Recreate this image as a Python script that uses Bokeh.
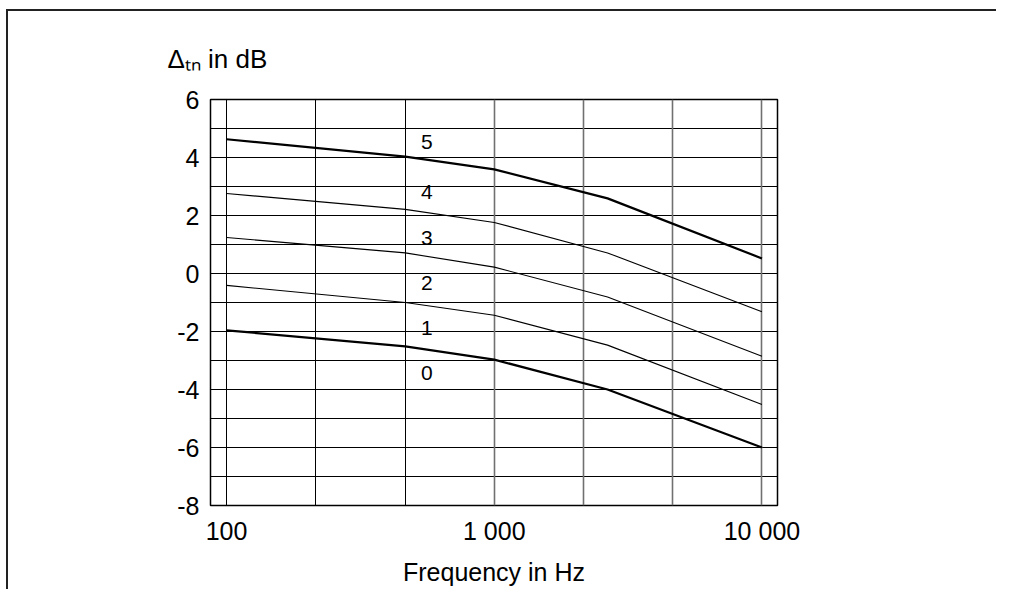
from bokeh.plotting import figure
from bokeh.models import FixedTicker, Grid, ColumnDataSource, Range1d, Title
from bokeh.core.properties import value
from bokeh.embed import file_html
from bokeh.resources import INLINE

# ---- data ----
freqs = [100, 465, 1000, 2650, 10000]
curve_5 = [4.63, 4.03, 3.59, 2.59, 0.52]
curve_4 = [2.76, 2.21, 1.76, 0.71, -1.32]
curve_3 = [1.24, 0.71, 0.22, -0.81, -2.85]
curve_2 = [-0.41, -1.00, -1.44, -2.47, -4.52]
curve_0 = [-1.96, -2.51, -2.97, -4.00, -6.00]

label_texts = ["5", "4", "3", "2", "1", "0"]
label_freq = [560, 560, 560, 560, 560, 560]
label_vals = [4.54, 2.81, 1.23, -0.34, -1.89, -3.42]

x_ticks = [100, 1000, 10000]
x_tick_labels = ["100", "1 000", "10 000"]
y_ticks = [6, 4, 2, 0, -2, -4, -6, -8]
y_tick_labels = ["6", "4", "2", "0", "-2", "-4", "-6", "-8"]

grid_x_dark = [100, 215.44, 464.16]
grid_x_grey = [1000, 2154.4, 4641.6, 10000]
grid_y = [-7, -6, -5, -4, -3, -2, -1, 0, 1, 2, 3, 4, 5]

x_min, x_max = 87.1, 11430
y_min, y_max = -8, 6

y_title = "\u0394\u209c\u2099 in dB"
x_title = "Frequency in Hz"

FONT = "Liberation Sans"

p = figure(width=990, height=580, x_axis_type="log",
           x_range=Range1d(x_min, x_max), y_range=Range1d(y_min, y_max),
           output_backend="svg", toolbar_location=None,
           min_border_left=202, min_border_right=221,
           min_border_top=88, min_border_bottom=86)
p.styles = {"border-style": "solid none none solid", "border-width": "2px",
            "border-color": "#222", "margin-top": "9px", "margin-left": "6px"}
p.background_fill_color = "white"
p.border_fill_color = "white"
p.outline_line_color = "black"
p.outline_line_width = 1.5

p.xgrid.visible = False
p.ygrid.ticker = FixedTicker(ticks=grid_y)
p.ygrid.grid_line_color = "black"
p.ygrid.grid_line_width = 1

g1 = Grid(dimension=0, ticker=FixedTicker(ticks=grid_x_dark),
          grid_line_color="black", grid_line_width=1)
g2 = Grid(dimension=0, ticker=FixedTicker(ticks=grid_x_grey),
          grid_line_color="#707070", grid_line_width=1.6)
p.add_layout(g1)
p.add_layout(g2)

for ax in (p.xaxis[0], p.yaxis[0]):
    ax.axis_line_color = None
    ax.major_tick_line_color = None
    ax.minor_tick_line_color = None
    ax.major_tick_out = 0
    ax.major_tick_in = 0
    ax.major_label_text_font = FONT
    ax.major_label_text_font_size = "25px"
    ax.major_label_text_color = "black"

p.xaxis.ticker = FixedTicker(ticks=x_ticks)
p.xaxis.major_label_overrides = dict(zip(x_ticks, x_tick_labels))
p.xaxis.major_label_standoff = 11
p.xaxis.axis_label = x_title
p.xaxis.axis_label_text_font = FONT
p.xaxis.axis_label_text_font_size = "25px"
p.xaxis.axis_label_text_font_style = "normal"
p.xaxis.axis_label_text_color = "black"
p.xaxis.axis_label_standoff = 10

p.yaxis.ticker = FixedTicker(ticks=y_ticks)
p.yaxis.major_label_overrides = dict(zip(y_ticks, y_tick_labels))
p.yaxis.major_label_standoff = 11

thick = 2.2
thin = 1.1
p.line(freqs, curve_5, line_color="black", line_width=thick)
p.line(freqs, curve_4, line_color="black", line_width=thin)
p.line(freqs, curve_3, line_color="black", line_width=thin)
p.line(freqs, curve_2, line_color="black", line_width=thin)
p.line(freqs, curve_0, line_color="black", line_width=thick)

src = ColumnDataSource(dict(x=label_freq, y=label_vals, t=label_texts))
p.text(x="x", y="y", text="t", source=src, text_font=value(FONT),
       text_font_size="21px", text_align="center", text_baseline="middle",
       text_color="black")

# y-axis title, horizontal, above the frame
p.add_layout(Title(text=y_title, align="left", text_font=FONT,
                   text_font_size="26px", text_font_style="normal",
                   text_color="black", offset=-43, standoff=52), "above")

open("out.html", "w").write(file_html(p, INLINE))
